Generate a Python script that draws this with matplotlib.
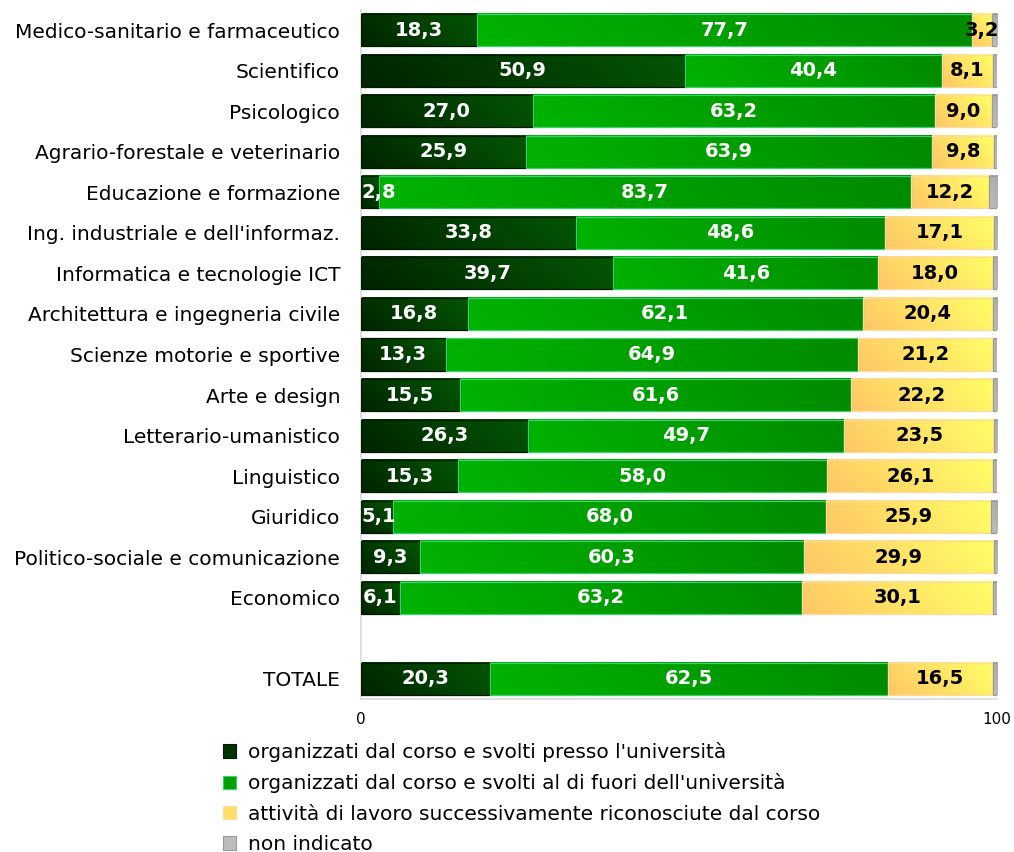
import numpy as np
import matplotlib
matplotlib.use("Agg")
import matplotlib.pyplot as plt
from matplotlib.patches import Patch
from matplotlib.colors import LinearSegmentedColormap

plt.rcParams['font.family'] = ['DejaVu Sans']

categorie = [
    "Medico-sanitario e farmaceutico", "Scientifico", "Psicologico",
    "Agrario-forestale e veterinario", "Educazione e formazione",
    "Ing. industriale e dell'informaz.", "Informatica e tecnologie ICT",
    "Architettura e ingegneria civile", "Scienze motorie e sportive",
    "Arte e design", "Letterario-umanistico", "Linguistico", "Giuridico",
    "Politico-sociale e comunicazione", "Economico", "TOTALE",
]
presso_universita = [18.3, 50.9, 27.0, 25.9, 2.8, 33.8, 39.7, 16.8, 13.3, 15.5, 26.3, 15.3, 5.1, 9.3, 6.1, 20.3]
fuori_universita = [77.7, 40.4, 63.2, 63.9, 83.7, 48.6, 41.6, 62.1, 64.9, 61.6, 49.7, 58.0, 68.0, 60.3, 63.2, 62.5]
lavoro_riconosciuto = [3.2, 8.1, 9.0, 9.8, 12.2, 17.1, 18.0, 20.4, 21.2, 22.2, 23.5, 26.1, 25.9, 29.9, 30.1, 16.5]
non_indicato = [0.8, 0.6, 0.8, 0.4, 1.3, 0.5, 0.7, 0.7, 0.6, 0.7, 0.5, 0.6, 1.0, 0.5, 0.6, 0.7]

serie_nomi = [
    "organizzati dal corso e svolti presso l'università",
    "organizzati dal corso e svolti al di fuori dell'università",
    "attività di lavoro successivamente riconosciute dal corso",
    "non indicato",
]

# (bottom-left colour, top-right colour, edge colour, label colour, legend colour)
stili = [
    ("#002400", "#045604", "#001a00", "white", "#003300"),
    ("#00b400", "#008a00", "#3ccf6e", "white", "#00a000"),
    ("#ffc766", "#ffff66", "#ffd9a0", "black", "#ffe066"),
    ("#bcbcbc", "#ababab", "#9a9a9a", None, "#bdbdbd"),
]

# rows 0..14 for the fields, an empty row, then the total
pos = np.array(list(range(len(categorie) - 1)) + [len(categorie)], dtype=float)

fig = plt.figure(figsize=(10.14, 8.52), dpi=100)
ax = fig.add_axes([361 / 1014, 1 - 699 / 852, 636 / 1014, 689 / 852])
ax.set_xlim(0, 100)
ax.set_ylim(16.5, -0.5)
renderer = fig.canvas.get_renderer()

bbox = ax.get_window_extent()
px_x = bbox.width / 100.0
px_y = bbox.height / 17.0

altezza = 0.79
serie = [presso_universita, fuori_universita, lavoro_riconosciuto, non_indicato]
sinistra = np.zeros(len(categorie))

for valori, (c0, c1, ce, ct, _) in zip(serie, stili):
    valori = np.array(valori)
    bars = ax.barh(pos, valori, left=sinistra, height=altezza,
                   facecolor="none", edgecolor=ce, linewidth=0.9, zorder=3)
    cmap = LinearSegmentedColormap.from_list("g", [c0, c1])
    for p, v in zip(bars.patches, valori):
        x0, y0, w, h = p.get_x(), p.get_y(), p.get_width(), p.get_height()
        W, H = w * px_x, h * px_y
        U, V = np.meshgrid(np.linspace(0, 1, 80), np.linspace(0, 1, 20))
        t = (U * W + (1 - V) * H) / (W + H)
        ax.imshow(cmap(t), extent=(x0, x0 + w, y0 + h, y0), aspect="auto",
                  interpolation="bilinear", zorder=2)
        if ct is not None:
            txt = ax.text(x0 + w / 2, y0 + h / 2, f"{v:.1f}".replace(".", ","),
                          ha="center", va="center", color=ct, fontsize=14,
                          fontweight="bold", zorder=4)
            # keep labels of narrow segments inside the plotting area
            half = txt.get_window_extent(renderer).width / 2 / px_x
            if x0 + w / 2 - half < 0:
                txt.set_x(half + 0.1)
    sinistra = sinistra + valori

ax.set_xlim(0, 100)
ax.set_ylim(16.5, -0.5)
ax.set_yticks(pos)
ax.set_yticklabels(categorie, fontsize=14.5)
ax.set_xticks([0, 100])
ax.set_xticklabels(["0", "100"], fontsize=11)
ax.tick_params(axis="y", length=0, pad=15)
ax.tick_params(axis="x", length=0, pad=9)
for s in ("top", "right"):
    ax.spines[s].set_visible(False)
for s in ("left", "bottom"):
    ax.spines[s].set_color("#d9d9d9")
    ax.spines[s].set_linewidth(1.2)

handles = [Patch(facecolor=cl, edgecolor=ce, linewidth=0.8, label=n)
           for n, (c0, c1, ce, ct, cl) in zip(serie_nomi, stili)]
fig.legend(handles=handles, loc="upper left", bbox_to_anchor=(215 / 1014, 1 - 734 / 852),
           frameon=False, fontsize=14.5, handlelength=0.65, handleheight=0.65,
           handletextpad=0.6, labelspacing=0.56, borderaxespad=0)

fig.savefig("out.png", dpi=100)
